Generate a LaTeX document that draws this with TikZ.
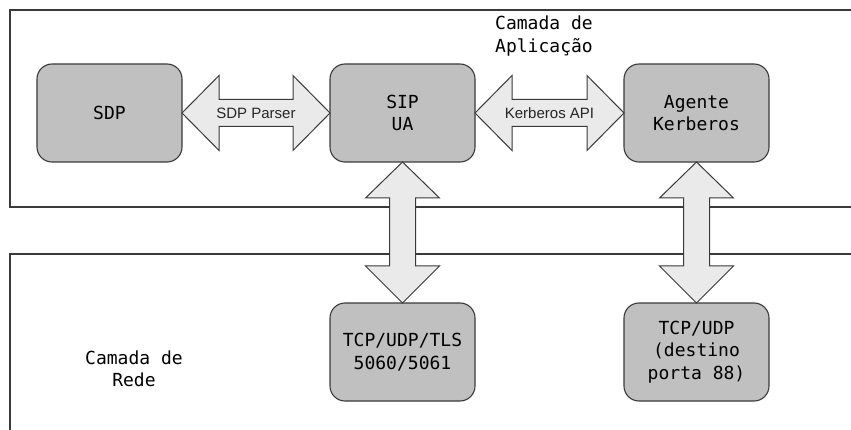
\documentclass[tikz,border=0pt]{standalone}
\usepackage{fontspec}
\setmainfont{Liberation Sans}
\newfontfamily\boxfont{DejaVu Sans Mono}
\usetikzlibrary{calc}
\definecolor{boxgray}{HTML}{C0C0C0}
\definecolor{arrowgray}{HTML}{EAEAEA}
\definecolor{edgegray}{HTML}{3A3A3A}
\tikzset{
  layer/.style={draw=edgegray, line width=1.6pt},
  module/.style={draw=edgegray, fill=boxgray, line width=1.1pt, rounded corners=15pt,
    minimum width=145pt, minimum height=98pt, outer sep=0pt, inner sep=0pt,
    align=center, font=\boxfont\fontsize{18}{22.5}\selectfont},
  layertext/.style={align=center, font=\boxfont\fontsize{18}{22.5}\selectfont},
  dblarrow/.style={draw=edgegray, fill=arrowgray, line width=1pt, line join=miter},
  apilabel/.style={font=\fontsize{15}{18}\selectfont, text=black!85}
}
% double-headed block arrow between two modules, left to right
\newcommand\linkH[3]{%
  \draw[dblarrow] (#1.east) -- ++(37,-37.5) -- ++(0,24)
    -- ($(#2.west)+(-37,-13.5)$) -- ++(0,-24) -- (#2.west)
    -- ++(-37,37.5) -- ++(0,-24) -- ($(#1.east)+(37,13.5)$) -- ++(0,24) -- cycle;
  \node[apilabel] at ($(#1.east)!0.5!(#2.west)$) {#3};}
% double-headed block arrow between two modules, top to bottom
\newcommand\linkV[2]{%
  \draw[dblarrow] (#1.south) -- ++(37,36) -- ++(-24,0)
    -- ($(#2.north)+(13,-37)$) -- ++(24,0) -- (#2.north)
    -- ++(-37,-37) -- ++(24,0) -- ($(#1.south)+(-13,36)$) -- ++(-24,0) -- cycle;}
\begin{document}
\begin{tikzpicture}[x=1pt, y=-1pt]
  \useasboundingbox (0,0) rectangle (851,430);
  \fill[white] (0,0) rectangle (851,430);
  \begin{scope}
    \clip (0,0) rectangle (851,430);
    % application layer and network layer frames
    \draw[layer] (870,10) -- (10,10) -- (10,207) -- (870,207);
    \draw[layer] (870,254) -- (10,254) -- (10,450);
  \end{scope}
  \node[layertext] (app) at (544,36) {Camada de\\Aplicação};
  \node[layertext] (net) at (134,369) {Camada de\\Rede};

  \node[module] (sdp) at (109.5,113) {SDP};
  \node[module] (sip) at (402.5,113) {SIP\\UA};
  \node[module] (krb) at (696.5,113) {Agente\\Kerberos};
  \node[module] (tls) at (402.5,352) {TCP/UDP/TLS\\5060/5061};
  \node[module] (udp) at (696.5,352) {TCP/UDP\\(destino\\porta 88)};

  \linkH{sdp}{sip}{SDP Parser}
  \linkH{sip}{krb}{Kerberos API}
  \linkV{sip}{tls}
  \linkV{krb}{udp}
\end{tikzpicture}
\end{document}
